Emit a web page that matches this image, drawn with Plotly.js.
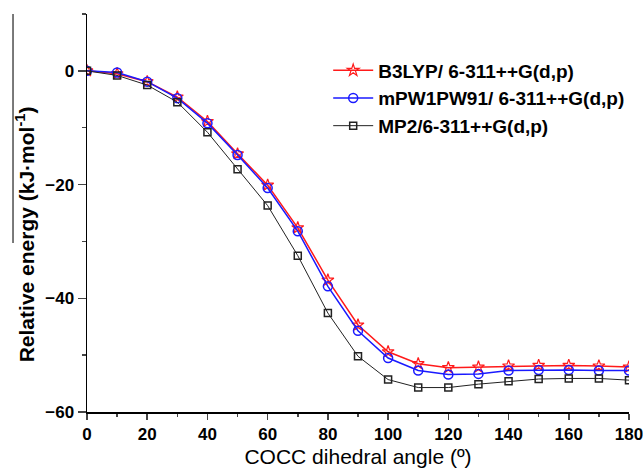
<!DOCTYPE html>
<html>
<head>
<meta charset="utf-8">
<script src="https://cdn.plot.ly/plotly-3.0.1.min.js"></script>
<style>html,body{margin:0;padding:0;background:#fff;}#chart{width:643px;height:474px;}</style>
</head>
<body>
<div id="chart"></div>
<script>
const angles = [0,10,20,30,40,50,60,70,80,90,100,110,120,130,140,150,160,170,180];
const b3lyp = [0,-0.5,-1.9,-4.6,-8.9,-14.6,-20.1,-27.6,-36.8,-44.7,-49.4,-51.5,-52.2,-52.1,-51.9,-51.8,-51.8,-51.9,-52.1];
const mpw = [0,-0.3,-1.9,-4.8,-9.2,-14.8,-20.6,-28.2,-37.9,-45.7,-50.5,-52.7,-53.4,-53.3,-52.7,-52.6,-52.6,-52.7,-52.7];
const mp2 = [0,-0.8,-2.5,-5.5,-10.8,-17.3,-23.7,-32.5,-42.6,-50.2,-54.3,-55.7,-55.7,-55.1,-54.6,-54.2,-54.1,-54.1,-54.4];
const names = ['B3LYP/ 6-311++G(d,p)','mPW1PW91/ 6-311++G(d,p)','MP2/6-311++G(d,p)'];
const xTicks = [0,20,40,60,80,100,120,140,160,180];
const yTicks = [0,-20,-40,-60];
const yMinorTicks = [10,-10,-30,-50];

const fam = 'Liberation Sans, Arial, sans-serif';
const traces = [
  {x: angles, y: b3lyp, name: names[0], mode:'lines+markers', line:{color:'#ff1a1a', width:1.5},
   marker:{symbol:'star-open', size:9, color:'#ff1a1a', line:{width:1.2}}},
  {x: angles, y: mpw, name: names[1], mode:'lines+markers', line:{color:'#1a1aff', width:1.5},
   marker:{symbol:'circle-open', size:9, color:'#1a1aff', line:{width:1.5}}},
  {x: angles, y: mp2, name: names[2], mode:'lines+markers', line:{color:'#222', width:1},
   marker:{symbol:'square-open', size:7, color:'#222', line:{width:1.5}}}
];

const layout = {
  width:643, height:474,
  margin:{l:87, r:14, t:14, b:62},
  paper_bgcolor:'#fff', plot_bgcolor:'#fff',
  showlegend:true,
  legend:{x:0.445, y:0.906, xanchor:'left', yanchor:'top', traceorder:'normal',
    font:{family:fam, size:19, weight:'bold', color:'#000'}, bgcolor:'rgba(0,0,0,0)', itemwidth:40},
  xaxis:{range:[0,180], tickvals:xTicks, ticks:'outside', ticklen:6, tickwidth:1.5,
    minor:{dtick:10, ticks:'outside', ticklen:3, tickwidth:1.5},
    showline:true, linecolor:'#000', linewidth:1.5, showgrid:false, zeroline:false,
    ticklabeloverflow:'allow',
    tickfont:{family:fam, size:17, weight:'bold', color:'#000'},
    title:{text:'COCC dihedral angle (º)', font:{family:fam, size:21, color:'#000'}, standoff:6}},
  yaxis:{range:[-60,10], tickvals:yTicks, ticks:'outside', ticklen:8, tickwidth:1.5,
    minor:{tickvals:yMinorTicks, ticks:'outside', ticklen:4, tickwidth:1.5},
    showline:true, linecolor:'#000', linewidth:1.5, showgrid:false, zeroline:false,
    tickfont:{family:fam, size:17, weight:'bold', color:'#000'}},
  shapes:[{type:'line', xref:'paper', yref:'paper', x0:-0.1365, x1:-0.1365, y0:1, y1:0.4246,
    line:{color:'#333', width:1.3}}],
  annotations:[{text:'Relative energy (kJ·mol<sup>-1</sup>)', textangle:-90, xref:'paper', yref:'paper',
    x:-0.114, y:0.447, xanchor:'center', yanchor:'middle', showarrow:false,
    font:{family:fam, size:21, weight:'bold', color:'#000'}}]
};

Plotly.newPlot('chart', traces, layout, {displayModeBar:false, staticPlot:true});
</script>
</body>
</html>
